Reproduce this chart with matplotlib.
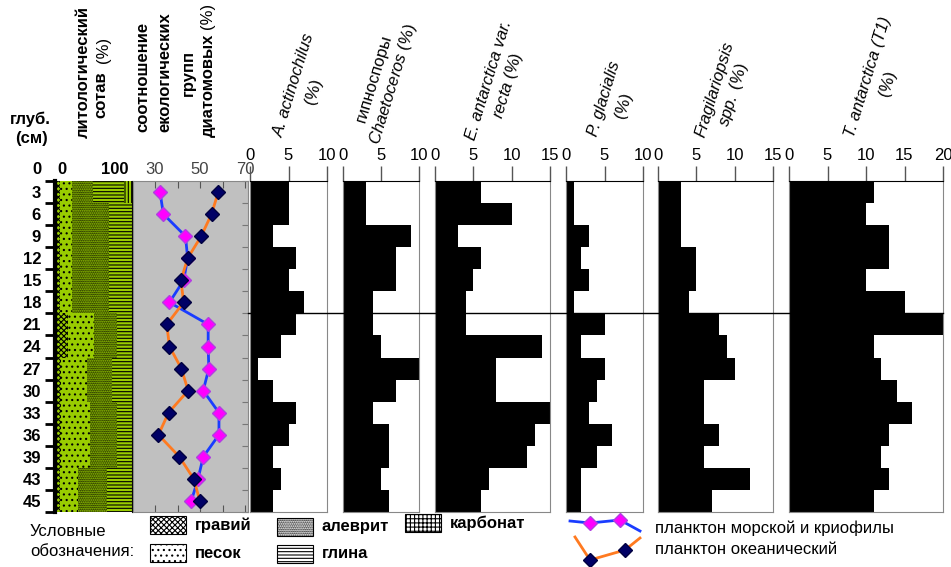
import matplotlib
matplotlib.use('Agg')
import matplotlib.pyplot as plt
from matplotlib.patches import Rectangle
from matplotlib.lines import Line2D
import numpy as np

plt.rcParams['font.family'] = ['Liberation Sans', 'DejaVu Sans']
plt.rcParams['mathtext.fontset'] = 'custom'
plt.rcParams['mathtext.it'] = 'Liberation Sans:italic'
plt.rcParams['mathtext.rm'] = 'Liberation Sans'
plt.rcParams['hatch.linewidth'] = 0.8

# depth labels (cm)
depth = ['3', '6', '9', '12', '15', '18', '21', '24', '27', '30', '33', '36', '39', '43', '45']

# lithology, % of each component
gravel = [6, 6, 6, 6, 6, 6, 17, 17, 8, 8, 8, 8, 8, 6, 6]
sand = [16, 16, 16, 16, 16, 16, 33, 33, 33, 33, 38, 38, 38, 24, 24]
silt = [27, 48, 48, 48, 48, 48, 30, 30, 33, 33, 34, 34, 34, 38, 38]
clay = [41, 30, 30, 30, 30, 30, 20, 20, 26, 26, 20, 20, 20, 32, 32]
carbonate = [10, 0, 0, 0, 0, 0, 0, 0, 0, 0, 0, 0, 0, 0, 0]

# ecological groups (%)
marine = [32.2, 33.7, 43.5, 44.5, 42.7, 36.4, 53.6, 53.6, 53.9, 51.4, 58.4, 58.4, 51.4, 49.1, 46.1]
oceanic = [58.1, 55.1, 50.5, 44.5, 41.5, 42.7, 35.2, 36.4, 41.7, 44.7, 36.0, 31.5, 40.8, 47.2, 49.9]

# species (%)
actinochilus = [5, 5, 3, 6, 5, 7, 6, 4, 1, 3, 6, 5, 3, 4, 3]
chaetoceros = [3, 3, 9, 7, 7, 4, 4, 5, 10, 7, 4, 6, 6, 5, 6]
e_antarctica = [6, 10, 3, 6, 5, 4, 4, 14, 8, 8, 15, 13, 12, 7, 6]
p_glacialis = [1, 1, 3, 2, 3, 1, 5, 2, 5, 4, 3, 6, 4, 2, 2]
fragilariopsis = [3, 3, 3, 5, 5, 4, 8, 9, 10, 6, 6, 8, 6, 12, 7]
t_antarctica = [11, 10, 13, 13, 10, 15, 20, 11, 12, 14, 16, 13, 12, 13, 11]

W, H = 951, 567
TOP, BOT = 181, 512
n = len(depth)
pos = np.arange(n) + 0.5
ANG = 73


def fx(x):
    return x / W


def fy(y):
    return 1 - y / H


def box(x0, x1):
    return [x0 / W, 1 - BOT / H, (x1 - x0) / W, (BOT - TOP) / H]


fig = plt.figure(figsize=(9.51, 5.67), dpi=100)
fig.patch.set_facecolor('white')

# ---- lithology column
GREEN = '#99cc00'
ax = fig.add_axes(box(55, 132))
left = np.zeros(n)
for vals, hatch in [(gravel, 'xxxxxx'), (sand, '...'), (silt, '.........'),
                    (clay, '-----'), (carbonate, '|||||')]:
    ax.barh(pos, vals, left=left, height=1.0, color=GREEN, edgecolor='black',
            hatch=hatch, linewidth=0)
    left = left + np.array(vals)
ax.set_xlim(0, 100)
ax.set_ylim(n, 0)
ax.set_xticks([])
ax.set_yticks(np.arange(n + 1))
ax.set_yticklabels([])
ax.set_yticks(pos, minor=True)
ax.set_yticklabels(depth, minor=True)
ax.tick_params(axis='y', which='major', direction='out', length=7, width=2)
ax.tick_params(axis='y', which='minor', length=0, pad=10)
for t in ax.get_yticklabels(minor=True):
    t.set_fontweight('bold')
    t.set_fontsize(12)
ax.spines['left'].set_linewidth(3)
ax.spines['top'].set_visible(False)
ax.spines['bottom'].set_visible(False)
ax.spines['right'].set_linewidth(0.8)
fig.text(fx(37), fy(170), '0', ha='center', va='center', fontsize=12, fontweight='bold')
fig.text(fx(62), fy(170), '0', ha='center', va='center', fontsize=12, fontweight='bold')
fig.text(fx(115), fy(170), '100', ha='center', va='center', fontsize=12, fontweight='bold')

# ---- ecological groups
ax = fig.add_axes(box(133, 248), facecolor='#c0c0c0')
ax.plot(marine, pos, color='#1a3cff', lw=2, marker='D', ms=7.5,
        mfc='#ff00ff', mec='#b040e0', zorder=3)
ax.plot(oceanic, pos, color='#ff7a20', lw=2, marker='D', ms=7.5,
        mfc='#000066', mec='#000040', zorder=4)
ax.set_xlim(20.2, 71.3)
ax.set_ylim(n, 0)
ax.set_xticks([30, 40, 50, 60, 70])
ax.set_xticklabels(['30', '', '50', '', '70'])
ax.tick_params(axis='x', direction='in', top=True, bottom=True, labeltop=True,
               labelbottom=False, length=5, pad=3, labelsize=12, labelcolor='#444444',
               color='#555555')
ax.set_yticks(np.arange(n + 1))
ax.tick_params(axis='y', left=False, right=True, labelleft=False, direction='in',
               length=4, color='#777777')
for s in ax.spines.values():
    s.set_color('#888888')

# ---- species panels: (values, max, ticks, x0, x1, line1, style1, line2, block centre)
panels = [
    (actinochilus, 10, [0, 5, 10], 250, 327,
     'A. actinochilus', 'italic', '(%)', (304, 88)),
    (chaetoceros, 10, [0, 5, 10], 343, 419,
     'гипноспоры', 'normal', r'$\mathit{Chaetoceros}$ (%)', (384, 81)),
    (e_antarctica, 15, [0, 5, 10, 15], 435, 550,
     'E. antarctica var.', 'italic', r'$\mathit{recta}$ (%)', (498, 83)),
    (p_glacialis, 10, [0, 5, 10], 566, 643,
     'P. glacialis', 'italic', '(%)', (614, 102)),
    (fragilariopsis, 15, [0, 5, 10, 15], 658, 773,
     'Fragilariopsis', 'italic', r'$\mathit{spp.}$ (%)', (724, 92)),
    (t_antarctica, 20, [0, 5, 10, 15, 20], 789, 943,
     'T. antarctica (T1)', 'italic', '(%)', (878, 80)),
]
dx = 10 * np.sin(np.radians(ANG))
dy = 10 * np.cos(np.radians(ANG))
for vals, xmax, ticks, x0, x1, l1, st1, l2, (lx, ly) in panels:
    ax = fig.add_axes(box(x0, x1))
    ax.barh(pos, vals, height=1.0, color='black', linewidth=0)
    ax.set_xlim(0, xmax)
    ax.set_ylim(n, 0)
    ax.xaxis.tick_top()
    ax.set_xticks(ticks)
    ax.tick_params(axis='x', direction='out', length=11, width=1, pad=2,
                   labelsize=12, color='#555555')
    ax.set_yticks([])
    for s in ['left', 'right', 'bottom']:
        ax.spines[s].set_color('#888888')
    ax.spines['top'].set_color('black')
    fig.text(fx(lx - dx), fy(ly - dy), l1, rotation=ANG, ha='center', va='center',
             rotation_mode='anchor', fontsize=12, style=st1)
    fig.text(fx(lx + dx), fy(ly + dy), l2, rotation=ANG, ha='center', va='center',
             rotation_mode='anchor', fontsize=12)

# boundary line between 18 and 21 cm
yb = TOP + 6 / n * (BOT - TOP)
fig.add_artist(Line2D([fx(248), fx(943)], [fy(yb), fy(yb)], color='black', lw=1))

# ---- headers
fig.text(fx(30), fy(119), 'глуб.', ha='center', va='center', fontsize=12, fontweight='bold')
fig.text(fx(31), fy(139), '(см)', ha='center', va='center', fontsize=12, fontweight='bold')
hdr = dict(rotation=90, ha='center', va='center', fontsize=12)
fig.text(fx(83), fy(72), 'литологический', fontweight='bold', **hdr)
fig.text(fx(101), fy(95), 'сотав', fontweight='bold', **hdr)
fig.text(fx(103), fy(50), '(%)', **hdr)
fig.text(fx(143), fy(77), 'соотношение', fontweight='bold', **hdr)
fig.text(fx(165), fy(72), 'екологических', fontweight='bold', **hdr)
fig.text(fx(188), fy(73), 'групп', fontweight='bold', **hdr)
fig.text(fx(208), fy(85), 'диатомовых', fontweight='bold', **hdr)
fig.text(fx(208), fy(16), '(%)', **hdr)

# ---- legend
fig.text(fx(30), fy(531), 'Условные', ha='left', va='center', fontsize=12)
fig.text(fx(30), fy(551), 'обозначения:', ha='left', va='center', fontsize=12)
legend_items = [
    ('xxxxxx', 'гравий', 150, 516),
    ('...', 'песок', 150, 544),
    ('.........', 'алеврит', 277, 518),
    ('-----', 'глина', 277, 545),
    ('++++', 'карбонат', 405, 514),
]
for hatch, name, lx, ly in legend_items:
    fig.add_artist(Rectangle((fx(lx), fy(ly + 18)), 36 / W, 18 / H, transform=fig.transFigure,
                             facecolor='white', edgecolor='black', hatch=hatch, lw=0.8))
    fig.text(fx(lx + 45), fy(ly + 9), name, ha='left', va='center', fontsize=12,
             fontweight='bold')

fig.add_artist(Line2D([fx(570), fx(590), fx(620), fx(640)], [fy(521), fy(523), fy(520), fy(531)],
                      color='#1a3cff', lw=2, marker='D', ms=7, mfc='#ff00ff', mec='#b040e0',
                      markevery=[1, 2]))
fig.add_artist(Line2D([fx(575), fx(590), fx(625), fx(640)], [fy(537), fy(560), fy(550), fy(538)],
                      color='#ff7a20', lw=2, marker='D', ms=7, mfc='#000066', mec='#000040',
                      markevery=[1, 2]))
fig.text(fx(655), fy(528), 'планктон морской и криофилы', ha='left', va='center', fontsize=12)
fig.text(fx(655), fy(550), 'планктон океанический', ha='left', va='center', fontsize=12)

fig.savefig('out.png', dpi=100)
